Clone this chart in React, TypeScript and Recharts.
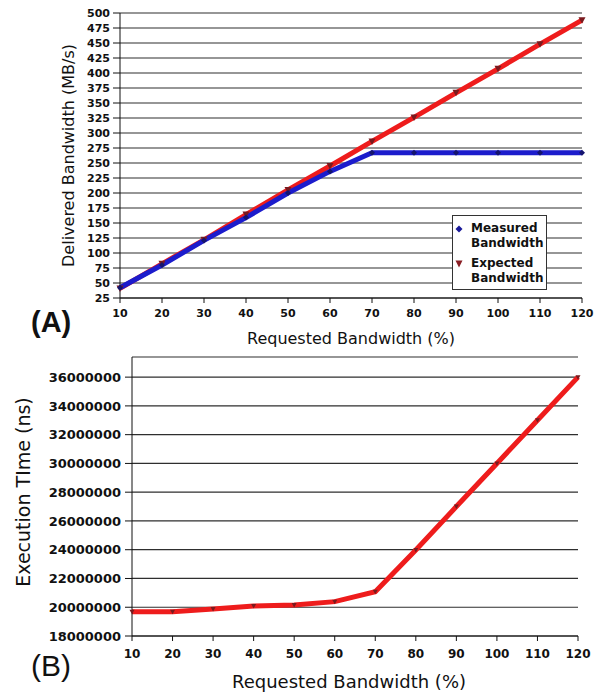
import React from 'react';
import { LineChart, Line, XAxis, YAxis, CartesianGrid, Legend, Label } from 'recharts';

const requested = [10, 20, 30, 40, 50, 60, 70, 80, 90, 100, 110, 120];
const measuredBW = [42, 80, 121, 159, 200, 236, 267, 267, 267, 267, 267, 267];
const expectedBW = [41, 82, 122, 164, 205, 245, 286, 326, 367, 407, 448, 488];
const execTime = [19690000, 19690000, 19880000, 20090000, 20160000, 20390000, 21080000, 23980000, 27000000, 30000000, 33000000, 36000000];

const xTicks = [10, 20, 30, 40, 50, 60, 70, 80, 90, 100, 110, 120];
const bwTicks = [25, 50, 75, 100, 125, 150, 175, 200, 225, 250, 275, 300, 325, 350, 375, 400, 425, 450, 475, 500];
const timeTicks = [18000000, 20000000, 22000000, 24000000, 26000000, 28000000, 30000000, 32000000, 34000000, 36000000];

const legendItems = [
  { lines: ['Measured', 'Bandwidth'], shape: 'diamond', color: '#1a1a99' },
  { lines: ['Expected', 'Bandwidth'], shape: 'tri', color: '#8a1f25' },
];

const dataA = requested.map((r, i) => ({ x: r, measured: measuredBW[i], expected: expectedBW[i] }));
const dataB = requested.map((r, i) => ({ x: r, time: execTime[i] }));

const FONT = '"DejaVu Sans", sans-serif';
const tickA = { fontFamily: FONT, fontSize: 11, fontWeight: 'bold', fill: '#111' };
const tickB = { fontFamily: FONT, fontSize: 13, fontWeight: 'bold', fill: '#111' };
const tickBx = { fontFamily: FONT, fontSize: 12, fontWeight: 'bold', fill: '#111' };

const Diamond = (p: any) => {
  const { cx, cy, key } = p;
  if (cx == null || cy == null) return <g key={key} />;
  return <path key={key} d={`M${cx} ${cy - 3}L${cx + 3} ${cy}L${cx} ${cy + 3}L${cx - 3} ${cy}Z`} fill="#14146e" />;
};

const DownTri = (p: any) => {
  const { cx, cy, key } = p;
  if (cx == null || cy == null) return <g key={key} />;
  return <path key={key} d={`M${cx - 3.5} ${cy - 3}L${cx + 3.5} ${cy - 3}L${cx} ${cy + 3.5}Z`} fill="#7a1a1e" />;
};

const SmallTri = (p: any) => {
  const { cx, cy, key } = p;
  if (cx == null || cy == null) return <g key={key} />;
  return <path key={key} d={`M${cx - 2.5} ${cy - 2}L${cx + 2.5} ${cy - 2}L${cx} ${cy + 2.5}Z`} fill="#7a1a1e" />;
};

const LegendBox = () => (
  <div
    style={{
      width: 95,
      height: 75,
      boxSizing: 'border-box',
      border: '1px solid #333',
      background: '#fff',
      fontFamily: FONT,
      fontWeight: 'bold',
      fontSize: 12,
      lineHeight: '15px',
      color: '#111',
      paddingTop: 5,
    }}
  >
    {legendItems.map((it, i) => (
      <div key={i} style={{ position: 'relative', paddingLeft: 18, marginTop: i === 0 ? 0 : 5 }}>
        <svg width={10} height={10} style={{ position: 'absolute', left: 1, top: 3 }}>
          {it.shape === 'diamond' ? (
            <path d="M5 1.5L8.5 5L5 8.5L1.5 5Z" fill={it.color} />
          ) : (
            <path d="M1.5 1.5L8.5 1.5L5 8.5Z" fill={it.color} />
          )}
        </svg>
        {it.lines.map((l, j) => (
          <div key={j}>{l}</div>
        ))}
      </div>
    ))}
  </div>
);

export default function App() {
  return (
    <div style={{ position: 'absolute', left: 0, top: 0, width: 602, height: 695, background: '#fff', overflow: 'hidden' }}>
      <div style={{ position: 'absolute', left: 0, top: 0 }}>
        <LineChart width={602} height={352} data={dataA} margin={{ top: 13, right: 20, left: 0, bottom: 24 }}>
          <CartesianGrid vertical={false} stroke="#2e2e2e" strokeWidth={1.2} />
          <XAxis
            dataKey="x"
            type="number"
            domain={[10, 120]}
            ticks={xTicks}
            height={30}
            tick={tickA}
            tickSize={5}
            tickMargin={6}
            stroke="#111"
            interval={0}
          >
            <Label
              content={(props: any) => {
                const vb = props.viewBox || { x: 120, y: 298, width: 462 };
                return (
                  <g>
                    <text x={vb.x + vb.width / 2} y={vb.y + 46} textAnchor="middle" fontFamily={FONT} fontSize={16} fill="#111">
                      Requested Bandwidth (%)
                    </text>
                    <text x={31} y={331.5} fontFamily='"Liberation Sans", Arial, sans-serif' fontWeight="bold" fontSize={29} fill="#111">
                      (A)
                    </text>
                  </g>
                );
              }}
            />
          </XAxis>
          <YAxis
            type="number"
            domain={[25, 500]}
            ticks={bwTicks}
            width={120}
            tick={tickA}
            tickSize={7}
            tickMargin={3}
            stroke="#111"
            interval={0}
          >
            <Label
              content={(props: any) => {
                const vb = props.viewBox || { x: 0, y: 13, width: 120, height: 285 };
                const cx = 68;
                const cy = vb.y + vb.height / 2;
                return (
                  <text x={cx} y={cy} dy="0.35em" transform={`rotate(-90 ${cx} ${cy})`} textAnchor="middle" fontFamily={FONT} fontSize={16} fill="#111">
                    Delivered Bandwidth (MB/s)
                  </text>
                );
              }}
            />
          </YAxis>
          <Legend
            verticalAlign="middle"
            align="center"
            layout="vertical"
            content={() => <LegendBox />}
            wrapperStyle={{ left: 452, top: 215, width: 95, height: 75 }}
          />
          <Line
            dataKey="expected"
            name="Expected Bandwidth"
            type="linear"
            stroke="#ee1c1c"
            strokeWidth={5}
            dot={DownTri}
            activeDot={false}
            isAnimationActive={false}
          />
          <Line
            dataKey="measured"
            name="Measured Bandwidth"
            type="linear"
            stroke="#1c1ccc"
            strokeWidth={5}
            dot={Diamond}
            activeDot={false}
            isAnimationActive={false}
          />
        </LineChart>
      </div>
      <div style={{ position: 'absolute', left: 0, top: 352 }}>
        <LineChart width={602} height={343} data={dataB} margin={{ top: 5, right: 24, left: 0, bottom: 29 }}>
          <CartesianGrid vertical={false} stroke="#2e2e2e" strokeWidth={1.2} />
          <XAxis
            dataKey="x"
            type="number"
            domain={[10, 120]}
            ticks={xTicks}
            height={30}
            tick={tickBx}
            tickSize={5}
            tickMargin={8}
            stroke="#111"
            interval={0}
          >
            <Label
              content={() => (
                <g>
                  <text x={349} y={336} textAnchor="middle" fontFamily={FONT} fontSize={18} fill="#111">
                    Requested Bandwidth (%)
                  </text>
                  <text x={31} y={324} fontFamily='"Liberation Sans", Arial, sans-serif' fontSize={30} fill="#111">
                    (B)
                  </text>
                </g>
              )}
            />
          </XAxis>
          <YAxis
            type="number"
            domain={[18000000, 37400000]}
            ticks={timeTicks}
            width={132}
            tick={tickB}
            tickSize={7}
            tickMargin={4}
            stroke="#111"
            interval={0}
            allowDataOverflow
          >
            <Label
              content={() => {
                const cx = 23;
                const cy = 140;
                return (
                  <text x={cx} y={cy} dy="0.35em" transform={`rotate(-90 ${cx} ${cy})`} textAnchor="middle" fontFamily={FONT} fontSize={19} fill="#111">
                    Execution TIme (ns)
                  </text>
                );
              }}
            />
          </YAxis>
          <Line
            dataKey="time"
            name="Execution Time"
            type="linear"
            stroke="#ee1c1c"
            strokeWidth={5}
            dot={SmallTri}
            activeDot={false}
            isAnimationActive={false}
          />
        </LineChart>
      </div>
    </div>
  );
}
